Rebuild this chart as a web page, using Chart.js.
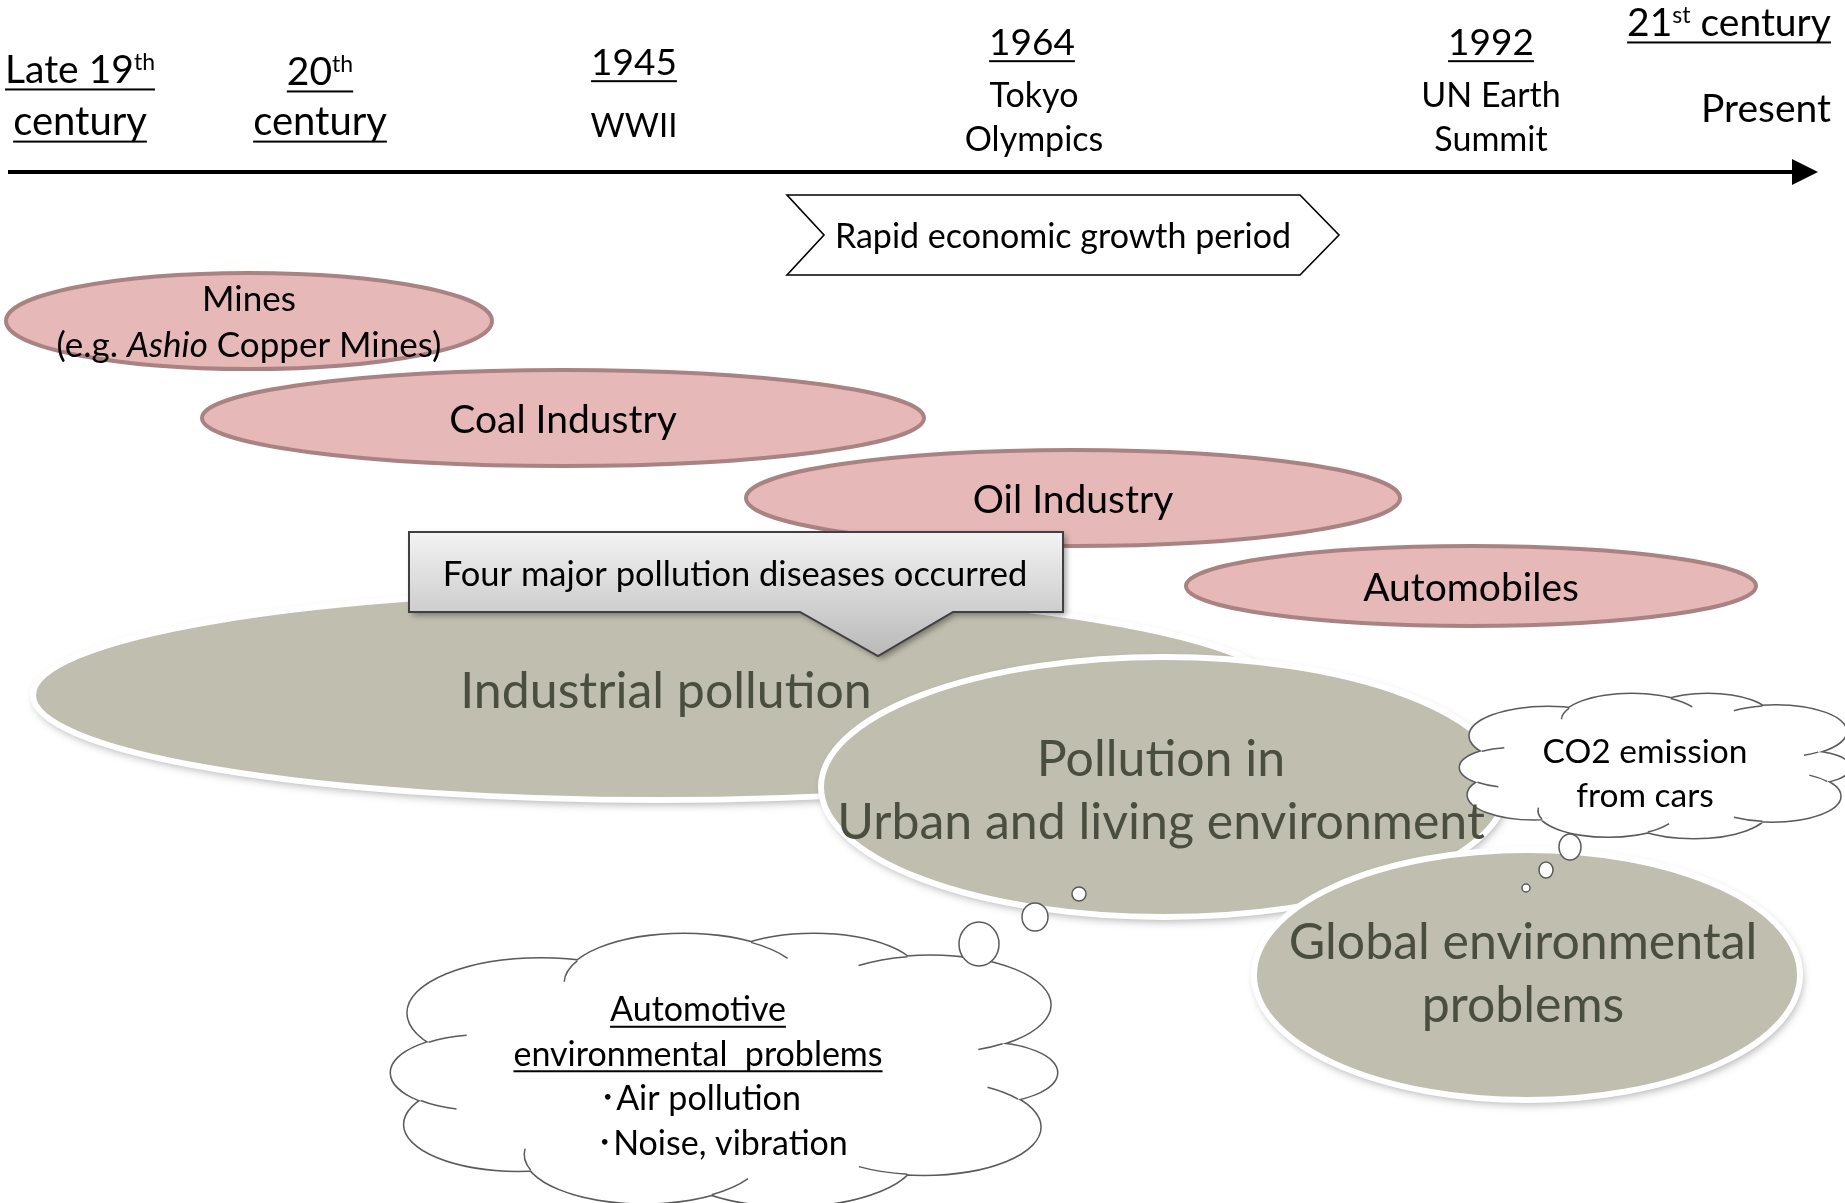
<!DOCTYPE html>
<html>
<head>
<meta charset="utf-8">
<title>Pollution timeline</title>
<script src="https://cdn.jsdelivr.net/npm/chart.js@4.4.1/dist/chart.umd.min.js"></script>
<style>
  html, body { margin: 0; padding: 0; background: #fff; }
  canvas { display: block; }
</style>
</head>
<body>
<canvas id="diagram" width="1845" height="1203"></canvas>
<script>
// timeline along the top axis (positions are in axis units)
const eraTitles = ["Late 19^th", "20^th", "1945", "1964", "1992", "21^st century"];
const eraNotes = [["century"], ["century"], ["WWII"], ["Tokyo", "Olympics"], ["UN Earth", "Summit"], ["Present"]];
const eraAt = [80, 320, 634, 1032, 1491, 1729];

const growthLabel = "Rapid economic growth period";
const growthFrom = 787;
const growthTo = 1339;

// pollution sources and the span they cover on the axis
const sources = [["Mines", "(e.g. _Ashio_ Copper Mines)"], ["Coal Industry"], ["Oil Industry"], ["Automobiles"]];
const sourceFrom = [6, 202, 746, 1186];
const sourceTo = [492, 924, 1400, 1756];

// kinds of pollution
const problems = [["Industrial pollution"], ["Pollution in", "Urban and living environment"], ["Global environmental", "problems"]];
const problemFrom = [33, 821, 1254];
const problemTo = [1285, 1507, 1800];

const calloutLabel = "Four major pollution diseases occurred";
const carProblems = ["^^Automotive", "^^environmental  problems", "\uFF65Air pollution", "\uFF65Noise, vibration"];
const carCO2 = ["CO2 emission", "from cars"];

// ---- layout (vertical placement, sizes) ----
const AXIS_Y = 172;
const eraTitleSize = [39, 39, 37, 37, 37, 39];
const eraTitleBase = [83, 85, 75, 55, 55, 36];
const eraNoteBase = [[135], [135], [137], [107, 151], [107, 151], [122]];
const eraNoteSize = [40, 40, 33, 34, 34, 39];
const eraNoteShift = [0, 0, 0, 2, 0, 37];
const eraNoteUnderline = [true, true, false, false, false, false];

const sourceMid = [321, 418, 498, 586];
const sourceHalf = [48, 48, 48, 40];
const sourceBase = [[311, 357], [433], [513], [601]];
const sourceSize = [35, 39, 39, 39];

const problemMid = [695, 787, 975];
const problemHalf = [105, 130, 125];
const problemShift = [7, -3, -4];
const problemBase = [[708], [776, 839], [959, 1022]];
const problemSize = [50, 50, 50];

const FONT = "Lato, 'Noto Sans CJK JP', sans-serif";
const PINK = "#e6b8b7", PINK_EDGE = "#a98282";
const GREY = "#c0beae", GREY_TEXT = "#4a4e3f";
const CLOUD_EDGE = "#5a5a5a";

// split "19^th" / "_Ashio_" into plain, superscript and italic runs
function parseRich(str) {
  const parts = [];
  const re = /\^(\w+)|_([^_]+)_|([^^_]+)/g;
  let m;
  while ((m = re.exec(str))) {
    if (m[1]) parts.push({ t: m[1], sup: true });
    else if (m[2]) parts.push({ t: m[2], italic: true });
    else parts.push({ t: m[3] });
  }
  return parts;
}

function drawText(ctx, str, x, y, size, opts = {}) {
  let underline = !!opts.underline;
  if (str.startsWith("^^")) { underline = true; str = str.slice(2); }
  const parts = parseRich(str);
  const fontFor = (p) => `${p.italic ? "italic " : ""}${p.sup ? Math.round(size * 0.6) : size}px ${FONT}`;
  let total = 0;
  parts.forEach((p) => { ctx.font = fontFor(p); p.w = ctx.measureText(p.t).width; total += p.w; });
  const align = opts.align || "center";
  let sx = align === "center" ? x - total / 2 : align === "right" ? x - total : x;
  const start = sx;
  ctx.fillStyle = opts.color || "#000";
  ctx.textAlign = "left";
  ctx.textBaseline = "alphabetic";
  parts.forEach((p) => {
    ctx.font = fontFor(p);
    ctx.fillText(p.t, sx, p.sup ? y - size * 0.33 : y);
    sx += p.w;
  });
  if (underline) ctx.fillRect(start, y + size * 0.14, total, 2);
}

// cloud = ring of bumps in a unit box, scaled to the box
const CLOUD = [[-0.72, 0.02, 0.28], [-0.55, -0.42, 0.40], [-0.12, -0.64, 0.36], [0.27, -0.68, 0.32],
  [0.62, -0.48, 0.36], [0.78, 0.02, 0.22], [0.60, 0.42, 0.35], [0.20, 0.62, 0.38],
  [-0.24, 0.62, 0.36], [-0.62, 0.40, 0.34]];

function drawCloud(ctx, cx, cy, rx, ry) {
  const unit = (fn) => { ctx.save(); ctx.translate(cx, cy); ctx.scale(rx, ry); ctx.beginPath(); fn(); ctx.restore(); };
  const bumps = () => CLOUD.forEach(([u, v, r]) => { ctx.moveTo(u + r, v); ctx.arc(u, v, r, 0, Math.PI * 2); });
  unit(bumps);
  ctx.strokeStyle = CLOUD_EDGE;
  ctx.lineWidth = 3;
  ctx.stroke();
  unit(() => { bumps(); ctx.moveTo(0.66, 0); ctx.arc(0, 0, 0.66, 0, Math.PI * 2); });
  ctx.fillStyle = "#fff";
  ctx.fill();
  // little creases where two bumps meet
  ctx.lineWidth = 1.5;
  CLOUD.forEach((a, i) => {
    const b = CLOUD[(i + 1) % CLOUD.length];
    const dx = b[0] - a[0], dy = b[1] - a[1], d = Math.hypot(dx, dy);
    const l = (a[2] ** 2 - b[2] ** 2 + d * d) / (2 * d);
    const h = Math.sqrt(Math.max(0, a[2] ** 2 - l * l));
    const mx = a[0] + (l * dx) / d, my = a[1] + (l * dy) / d;
    const p1 = [mx - (h * dy) / d, my + (h * dx) / d], p2 = [mx + (h * dy) / d, my - (h * dx) / d];
    const pt = Math.hypot(...p1) > Math.hypot(...p2) ? p1 : p2;
    const own = i % 2 ? b : a, other = i % 2 ? a : b;
    const phi = Math.atan2(pt[1] - own[1], pt[0] - own[0]);
    let diff = Math.atan2(other[1] - own[1], other[0] - own[0]) - phi;
    while (diff > Math.PI) diff -= 2 * Math.PI;
    while (diff < -Math.PI) diff += 2 * Math.PI;
    const end = phi + Math.sign(diff) * Math.min(0.45, Math.abs(diff) * 0.7);
    unit(() => ctx.arc(own[0], own[1], own[2], phi, end, diff < 0));
    ctx.stroke();
  });
}

function drawBubble(ctx, cx, cy, rx, ry) {
  ctx.beginPath();
  ctx.ellipse(cx, cy, rx, ry, 0, 0, Math.PI * 2);
  ctx.fillStyle = "#fff";
  ctx.fill();
  ctx.lineWidth = 1.5;
  ctx.strokeStyle = CLOUD_EDGE;
  ctx.stroke();
}

const diagramPlugin = {
  id: "diagram",
  afterDraw(chart) {
    const ctx = chart.ctx;
    const X = (v) => chart.scales.x.getPixelForValue(v);
    const Y = (v) => chart.scales.y.getPixelForValue(v);
    const W = (a, b) => X(b) - X(a);
    const H = (a, b) => Y(b) - Y(a);
    ctx.save();

    // time axis with arrow
    ctx.fillStyle = "#000";
    ctx.fillRect(X(8), Y(AXIS_Y) - 2, W(8, 1794), 4);
    ctx.beginPath();
    ctx.moveTo(X(1792), Y(AXIS_Y - 13));
    ctx.lineTo(X(1818), Y(AXIS_Y));
    ctx.lineTo(X(1792), Y(AXIS_Y + 13));
    ctx.closePath();
    ctx.fill();

    eraTitles.forEach((title, i) => {
      drawText(ctx, title, X(eraAt[i]), Y(eraTitleBase[i]), eraTitleSize[i], { underline: true });
      eraNotes[i].forEach((note, j) => {
        drawText(ctx, note, X(eraAt[i] + eraNoteShift[i]), Y(eraNoteBase[i][j]), eraNoteSize[i], { underline: eraNoteUnderline[i] });
      });
    });

    // growth period chevron
    ctx.beginPath();
    ctx.moveTo(X(growthFrom), Y(195));
    ctx.lineTo(X(growthTo - 39), Y(195));
    ctx.lineTo(X(growthTo), Y(235));
    ctx.lineTo(X(growthTo - 39), Y(275));
    ctx.lineTo(X(growthFrom), Y(275));
    ctx.lineTo(X(growthFrom + 37), Y(235));
    ctx.closePath();
    ctx.fillStyle = "#fff";
    ctx.fill();
    ctx.lineWidth = 1.6;
    ctx.strokeStyle = "#000";
    ctx.stroke();
    drawText(ctx, growthLabel, X(1063), Y(248), 34);

    // pollution sources
    sources.forEach((lines, i) => {
      const cx = X((sourceFrom[i] + sourceTo[i]) / 2);
      ctx.beginPath();
      ctx.ellipse(cx, Y(sourceMid[i]), W(sourceFrom[i], sourceTo[i]) / 2, H(0, sourceHalf[i]), 0, 0, Math.PI * 2);
      ctx.fillStyle = PINK;
      ctx.fill();
      ctx.lineWidth = 4;
      ctx.strokeStyle = PINK_EDGE;
      ctx.stroke();
      lines.forEach((line, j) => drawText(ctx, line, cx, Y(sourceBase[i][j]), sourceSize[i]));
    });

    const problemShape = (i) => {
      ctx.save();
      ctx.beginPath();
      ctx.ellipse(X((problemFrom[i] + problemTo[i]) / 2), Y(problemMid[i]), W(problemFrom[i], problemTo[i]) / 2, H(0, problemHalf[i]), 0, 0, Math.PI * 2);
      ctx.shadowColor = "rgba(0,0,0,0.35)";
      ctx.shadowBlur = 10;
      ctx.shadowOffsetX = 2;
      ctx.shadowOffsetY = 4;
      ctx.fillStyle = GREY;
      ctx.fill();
      ctx.shadowColor = "transparent";
      ctx.lineWidth = 6;
      ctx.strokeStyle = "#fff";
      ctx.stroke();
      ctx.restore();
    };
    const problemText = (i) => {
      const cx = (problemFrom[i] + problemTo[i]) / 2 + problemShift[i];
      problems[i].forEach((line, j) => drawText(ctx, line, X(cx), Y(problemBase[i][j]), problemSize[i], { color: GREY_TEXT }));
    };

    problemShape(0);
    problemText(0);

    // callout over industrial pollution
    ctx.save();
    ctx.beginPath();
    ctx.moveTo(X(409), Y(532));
    ctx.lineTo(X(1063), Y(532));
    ctx.lineTo(X(1063), Y(612));
    ctx.lineTo(X(953), Y(612));
    ctx.lineTo(X(878), Y(656));
    ctx.lineTo(X(800), Y(612));
    ctx.lineTo(X(409), Y(612));
    ctx.closePath();
    const grad = ctx.createLinearGradient(0, Y(532), 0, Y(656));
    grad.addColorStop(0, "#f3f3f3");
    grad.addColorStop(1, "#b9b9b9");
    ctx.fillStyle = grad;
    ctx.shadowColor = "rgba(0,0,0,0.4)";
    ctx.shadowBlur = 6;
    ctx.shadowOffsetX = 3;
    ctx.shadowOffsetY = 3;
    ctx.fill();
    ctx.shadowColor = "transparent";
    ctx.lineWidth = 2;
    ctx.strokeStyle = "#404040";
    ctx.stroke();
    ctx.restore();
    drawText(ctx, calloutLabel, X(735), Y(586), 34.5);

    problemShape(1);

    // CO2 thought cloud
    drawCloud(ctx, X(1655), Y(766), W(0, 195), H(0, 72));
    carCO2.forEach((line, j) => drawText(ctx, line, X(1645), Y(763 + j * 44), 33.5));

    problemText(1);
    problemShape(2);
    problemText(2);

    drawBubble(ctx, X(1570), Y(847), W(0, 11), H(0, 13));
    drawBubble(ctx, X(1546), Y(870), W(0, 7), H(0, 8));
    drawBubble(ctx, X(1526), Y(888), W(0, 4), H(0, 4));

    // automotive problems cloud
    drawCloud(ctx, X(724), Y(1070), W(0, 333), H(0, 136));
    drawBubble(ctx, X(979), Y(944), W(0, 20), H(0, 22));
    drawBubble(ctx, X(1035), Y(917), W(0, 13), H(0, 14));
    drawBubble(ctx, X(1079), Y(894), W(0, 7), H(0, 7));
    const carX = [698, 698, 700, 722];
    carProblems.forEach((line, j) => drawText(ctx, line, X(carX[j]), Y(1021 + j * 44.5), 34));

    ctx.restore();
  },
};

function makeChart() {
  new Chart(document.getElementById("diagram"), {
    type: "scatter",
    data: { datasets: [{ data: [] }] },
    options: {
      responsive: false,
      animation: false,
      devicePixelRatio: 1,
      layout: { padding: 0 },
      plugins: { legend: { display: false }, tooltip: { enabled: false } },
      scales: {
        x: { type: "linear", min: 0, max: 1845, display: false },
        y: { type: "linear", min: 0, max: 1203, reverse: true, display: false },
      },
    },
    plugins: [diagramPlugin],
  });
}

Promise.all([
  document.fonts.load(`37px ${FONT}`),
  document.fonts.load(`italic 31px ${FONT}`),
]).then(makeChart, makeChart);
</script>
</body>
</html>
